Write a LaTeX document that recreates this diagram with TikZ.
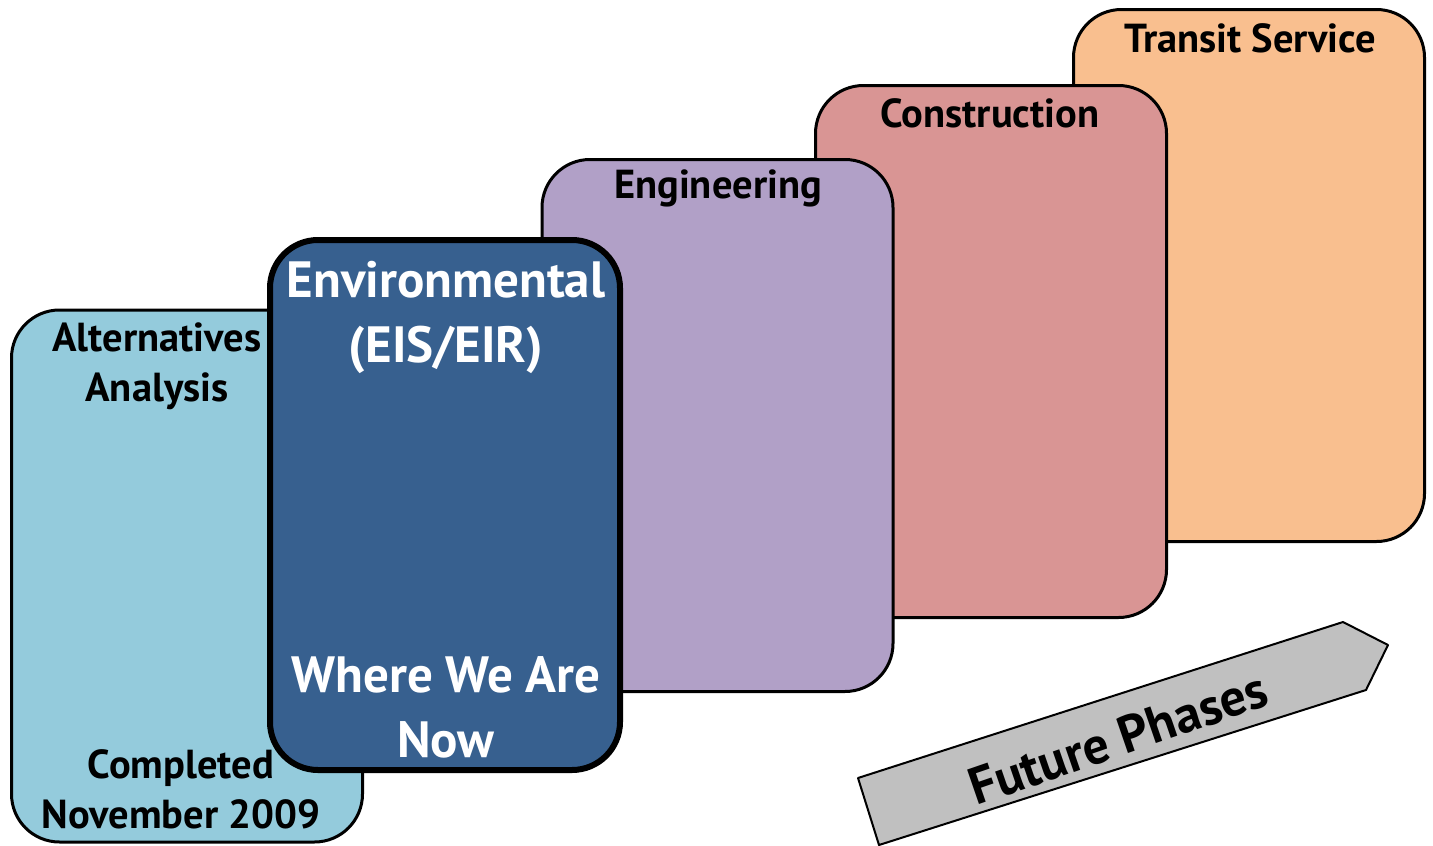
\documentclass[tikz,border=0pt]{standalone}
\usepackage{fontspec}
\setmainfont{PT Sans}
\usetikzlibrary{positioning}

\definecolor{altblue}{HTML}{94CBDC}
\definecolor{envblue}{HTML}{37608F}
\definecolor{englilac}{HTML}{B1A0C7}
\definecolor{conrose}{HTML}{D99594}
\definecolor{tsorange}{HTML}{F9BF8F}
\definecolor{arrowgray}{HTML}{C0C0C0}

\tikzset{
	phase/.style={draw, line width=3pt, rounded corners=48pt, inner sep=0pt,
		minimum width=351pt, minimum height=532pt},
	heading/.style={font=\fontsize{40.5}{50}\selectfont\bfseries, align=center, inner sep=0pt},
	bigheading/.style={font=\fontsize{51}{65}\selectfont\bfseries, align=center,
		text=white, inner sep=0pt}
}

\begin{document}
\begin{tikzpicture}[x=1pt, y=-1pt]
	\useasboundingbox (0,0) rectangle (1433,846);

	% phases, back to front
	\node[phase, fill=tsorange] (ts) at (1249, 275.5) {};
	\node[phase, fill=conrose] (con) at (991, 351.5) {};
	\node[phase, fill=englilac] (eng) at (717.5, 425.5) {};
	\node[phase, fill=altblue] (alt) at (187, 576) {};
	\node[phase, fill=envblue, line width=6pt, minimum width=350pt, minimum height=530pt] (env) at (445, 505) {};

	\node[heading] (tsT) at (1250, 38) {Transit Service};
	\node[heading] (conT) at (990, 113) {Construction};
	\node[heading] (engT) at (718, 188) {Engineering};
	\node[heading] (altT) at (157, 366) {Alternatives\\Analysis};
	\node[heading] (altB) at (181, 789) {Completed\\November 2009};
	\node[bigheading] (envT) at (446, 317) {Environmental\\(EIS/EIR)};
	\node[bigheading] (envB) at (446, 707) {Where We Are\\Now};

	% arrow for the later phases
	\draw[fill=arrowgray, line width=2pt, line join=round]
		(858,778) -- (1343,622) -- (1388,645) -- (1366,690) -- (879,845) -- cycle;
	\node[heading, font=\fontsize{52}{60}\selectfont\bfseries, rotate=19] (fut) at (1118, 738) {Future Phases};
\end{tikzpicture}
\end{document}
